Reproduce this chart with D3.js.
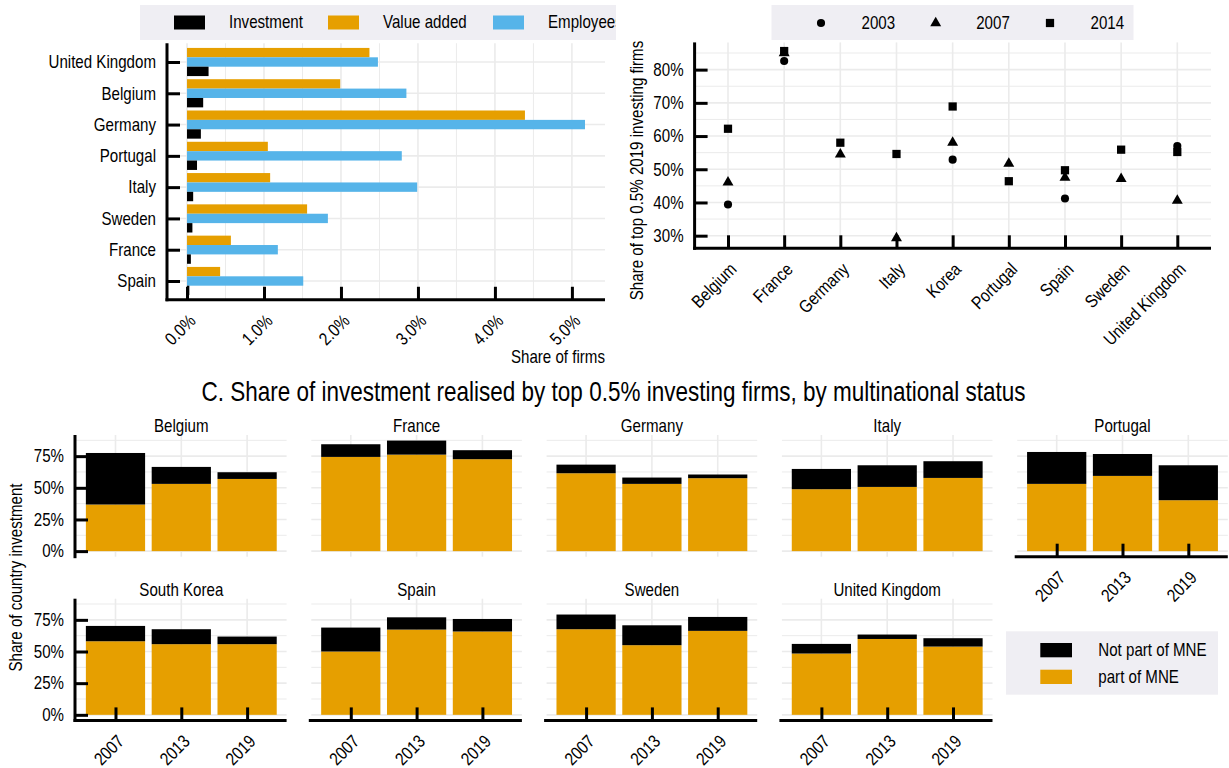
<!DOCTYPE html>
<html>
<head>
<meta charset="utf-8">
<script src="https://cdn.jsdelivr.net/npm/d3@7"></script>
<style>
  html, body { margin: 0; padding: 0; background: #fff; }
  svg { display: block; }
</style>
</head>
<body>
<script>
// ---------- Panel A: share of firms among top investors ----------
const firmCountries = ["United Kingdom", "Belgium", "Germany", "Portugal", "Italy", "Sweden", "France", "Spain"];
const investmentShare = [0.28, 0.21, 0.18, 0.13, 0.08, 0.07, 0.05, 0.03];
const valueAddedShare = [2.37, 1.99, 4.39, 1.05, 1.08, 1.56, 0.57, 0.43];
const employeeShare   = [2.48, 2.85, 5.17, 2.79, 2.99, 1.83, 1.18, 1.51];
const firmShareTicks  = [0, 1, 2, 3, 4, 5];
const firmSeriesNames = ["Investment", "Value added", "Employees"];

// ---------- Panel B: share of top 0.5% 2019 investors that were top investors earlier ----------
const pointCountries = ["Belgium", "France", "Germany", "Italy", "Korea", "Portugal", "Spain", "Sweden", "United Kingdom"];
const share2003 = [39.4, 82.6, null, null, 52.9, null, 41.2, null, 57.0];
const share2007 = [46.1, 85.0, 54.5, 29.3, 58.0, 51.7, 47.5, 47.1, 40.6];
const share2014 = [62.2, 85.6, 58.0, 54.6, 68.9, 46.4, 49.7, 55.9, 55.2];
const pointYears = ["2003", "2007", "2014"];
const pointTicks = [30, 40, 50, 60, 70, 80];

// ---------- Panel C: investment share of top 0.5% investors by MNE status ----------
const facetCountries = ["Belgium", "France", "Germany", "Italy", "Portugal", "South Korea", "Spain", "Sweden", "United Kingdom"];
const facetYears = ["2007", "2013", "2019"];
const mneShare = [
  [36.8, 53.1, 57.0], [74.4, 76.2, 72.6], [61.5, 53.1, 57.6], [48.9, 50.7, 57.8], [53.1, 59.4, 40.2],
  [58.1, 55.8, 55.8], [50.0, 67.3, 65.8], [67.6, 55.0, 66.3], [48.4, 59.9, 53.9]
];
const nonMneShare = [
  [40.7, 13.4, 5.3], [10.0, 11.1, 7.1], [6.8, 5.0, 2.9], [16.0, 17.1, 13.2], [25.2, 17.3, 27.6],
  [12.1, 11.8, 6.0], [18.9, 9.7, 9.9], [11.6, 15.7, 11.0], [7.6, 3.5, 6.6]
];
const facetTicks = [0, 25, 50, 75];
const mneLegend = ["Not part of MNE", "part of MNE"];

// ---------- styling ----------
const FONT = "'Liberation Sans',Arial,sans-serif";
const FS = 18;
const SX = 0.84;            // condensed lettering
const GRID = "#ebebeb";
const LEGEND_BG = "#efeef3";
const ORANGE = "#E69F00", BLUE = "#56B4E9", BLACK = "#000000";
const AXIS_W = 3, TICK_LEN = 13;

const svg = d3.select("body").append("svg")
  .attr("width", 1229).attr("height", 768)
  .attr("font-family", FONT);

function hLine(g, x1, x2, y, color, w) {
  g.append("line").attr("x1", x1).attr("x2", x2).attr("y1", y).attr("y2", y)
    .attr("stroke", color).attr("stroke-width", w);
}
function vLine(g, x, y1, y2, color, w) {
  g.append("line").attr("x1", x).attr("x2", x).attr("y1", y1).attr("y2", y2)
    .attr("stroke", color).attr("stroke-width", w);
}
// text placed at (x, y), optionally rotated, with condensed width
function label(g, x, y, str, opts = {}) {
  const rot = opts.rotate ? ` rotate(${opts.rotate})` : "";
  return g.append("text")
    .attr("transform", `translate(${x},${y})${rot} scale(${SX},1)`)
    .attr("text-anchor", opts.anchor || "start")
    .attr("dominant-baseline", "central")
    .attr("font-size", opts.size || FS)
    .attr("fill", "#000")
    .text(str);
}
function styleAxis(g) {
  g.attr("font-family", FONT).attr("font-size", FS);
  g.select(".domain").remove();
  g.selectAll(".tick line").attr("stroke", "#000").attr("stroke-width", AXIS_W);
  g.selectAll(".tick text").attr("fill", "#000");
}
function leftTickLabels(g, pad) {
  g.selectAll(".tick text").attr("x", 0)
    .attr("transform", `translate(${-pad},0) scale(${SX},1)`);
}
function rotateTickLabels(g) {
  g.selectAll(".tick text")
    .attr("x", 0).attr("y", 0).attr("dy", "0.72em")
    .attr("text-anchor", "end")
    .attr("transform", `translate(0,${TICK_LEN}) rotate(-45) scale(${SX},1)`);
}

// =================== Panel A ===================
{
  const g = svg.append("g");
  const clip = svg.append("clipPath").attr("id", "clipA");
  clip.append("rect").attr("x", 0).attr("y", 0).attr("width", 616).attr("height", 400);
  g.attr("clip-path", "url(#clipA)");

  const x = d3.scaleLinear().domain([-0.26, 5.43]).range([167, 605]);
  const y = d3.scalePoint().domain(firmCountries).range([62, 281]);
  const step = y.step();
  const top = y.range()[0] - 0.6 * step, bottom = y.range()[1] + 0.6 * step;
  const inner = d3.scaleBand().domain(["Value added", "Employees", "Investment"])
    .range([-0.45 * step, 0.45 * step]);

  // grid
  d3.range(0.5, 5.5, 1).forEach(v => vLine(g, x(v), top, bottom, GRID, 1));
  firmShareTicks.forEach(v => vLine(g, x(v), top, bottom, GRID, 1.6));
  firmCountries.forEach(c => hLine(g, x.range()[0], x.range()[1], y(c), GRID, 1.6));

  const series = [
    { key: "Value added", values: valueAddedShare, color: ORANGE },
    { key: "Employees", values: employeeShare, color: BLUE },
    { key: "Investment", values: investmentShare, color: BLACK }
  ];
  series.forEach(s => {
    g.append("g").selectAll("rect").data(firmCountries).join("rect")
      .attr("x", x(0))
      .attr("y", c => y(c) + inner(s.key))
      .attr("width", (c, i) => x(s.values[i]) - x(0))
      .attr("height", inner.bandwidth())
      .attr("fill", s.color);
  });

  const ay = g.append("g").attr("transform", `translate(${x.range()[0]},0)`)
    .call(d3.axisLeft(y).tickSizeInner(-TICK_LEN).tickSizeOuter(0).tickPadding(11));
  styleAxis(ay);
  leftTickLabels(ay, 11);
  const ax = g.append("g").attr("transform", `translate(0,${bottom})`)
    .call(d3.axisBottom(x).tickValues(firmShareTicks).tickFormat(d => d.toFixed(1) + "%")
      .tickSizeInner(-TICK_LEN).tickSizeOuter(0));
  styleAxis(ax);
  rotateTickLabels(ax);

  vLine(g, x.range()[0], top, bottom + AXIS_W / 2, "#000", AXIS_W);
  hLine(g, x.range()[0] - AXIS_W / 2, x.range()[1], bottom, "#000", AXIS_W);

  label(g, x.range()[1], 357, "Share of firms", { anchor: "end" });

  // legend
  const lg = g.append("g");
  lg.append("rect").attr("x", 140).attr("y", 5).attr("width", 520).attr("height", 35).attr("fill", LEGEND_BG);
  const legendColors = [BLACK, ORANGE, BLUE];
  const swatchX = [174, 328, 493];
  firmSeriesNames.forEach((name, i) => {
    lg.append("rect").attr("x", swatchX[i]).attr("y", 15.5).attr("width", 31).attr("height", 14)
      .attr("fill", legendColors[i]);
    label(lg, swatchX[i] + 55, 22.5, name);
  });
}

// =================== Panel B ===================
{
  const g = svg.append("g");
  const left = 694.6, right = 1211, top = 42.4, bottom = 248.3;
  const x = d3.scalePoint().domain(pointCountries).range([728, 1177.3]);
  const y = d3.scaleLinear().domain([26.2, 88.2]).range([bottom, top]);

  [35, 45, 55, 65, 75, 85].forEach(v => hLine(g, left, right, y(v), GRID, 1));
  pointTicks.forEach(v => hLine(g, left, right, y(v), GRID, 1.6));
  pointCountries.forEach(c => vLine(g, x(c), top, bottom, GRID, 1.6));

  const shapes = [d3.symbolCircle, d3.symbolTriangle, d3.symbolSquare];
  const sizes = [52, 52, 68];
  [share2003, share2007, share2014].forEach((vals, k) => {
    const sym = d3.symbol().type(shapes[k]).size(sizes[k]);
    g.append("g").selectAll("path")
      .data(pointCountries.map((c, i) => ({ c, v: vals[i] })).filter(d => d.v != null))
      .join("path")
      .attr("d", sym)
      .attr("transform", d => `translate(${x(d.c)},${y(d.v)})`)
      .attr("fill", "#000");
  });

  const ay = g.append("g").attr("transform", `translate(${left},0)`)
    .call(d3.axisLeft(y).tickValues(pointTicks).tickFormat(d => d + "%")
      .tickSizeInner(-TICK_LEN).tickSizeOuter(0).tickPadding(11));
  styleAxis(ay);
  leftTickLabels(ay, 11);
  const ax = g.append("g").attr("transform", `translate(0,${bottom})`)
    .call(d3.axisBottom(x).tickSizeInner(-TICK_LEN).tickSizeOuter(0));
  styleAxis(ax);
  rotateTickLabels(ax);

  vLine(g, left, top, bottom + AXIS_W / 2, "#000", AXIS_W);
  hLine(g, left - AXIS_W / 2, right, bottom, "#000", AXIS_W);

  label(g, 637, 170.5, "Share of top 0.5% 2019 investing firms", { anchor: "middle", rotate: -90 });

  // legend
  const lg = g.append("g");
  lg.append("rect").attr("x", 771.5).attr("y", 5).attr("width", 362).attr("height", 35).attr("fill", LEGEND_BG);
  const symX = [821, 935.7, 1050];
  pointYears.forEach((yr, k) => {
    lg.append("path").attr("d", d3.symbol().type(shapes[k]).size(sizes[k]))
      .attr("transform", `translate(${symX[k]},23)`).attr("fill", "#000");
    label(lg, symX[k] + 40.5, 23, yr);
  });
}

// =================== Panel C ===================
{
  const g = svg.append("g");
  label(g, 613.5, 391.5, "C. Share of investment realised by top 0.5% investing firms, by multinational status",
    { anchor: "middle", size: 26.8 });

  label(g, 16, 577.5, "Share of country investment", { anchor: "middle", rotate: -90 });

  const panelW = 210.6, colStep = 235.3, left0 = 76;
  const rows = [{ top: 435, bottom: 556.7 }, { top: 598.7, bottom: 720.4 }];
  const nCols = 5;

  facetCountries.forEach((country, i) => {
    const row = Math.floor(i / nCols), col = i % nCols;
    const left = left0 + col * colStep, right = left + panelW;
    const { top, bottom } = rows[row];
    const step = panelW / 3.2;
    const x = d3.scalePoint().domain(facetYears).range([left + 0.6 * step, right - 0.6 * step]);
    const y = d3.scaleLinear().domain([-4.4, 91.7]).range([bottom, top]);
    const barW = 0.9 * step;
    const pg = g.append("g");

    [12.5, 37.5, 62.5, 87.5].forEach(v => hLine(pg, left, right, y(v), GRID, 1));
    facetTicks.forEach(v => hLine(pg, left, right, y(v), GRID, 1.6));
    facetYears.forEach(yr => vLine(pg, x(yr), top, bottom, GRID, 1.6));

    // stacked bars: MNE at the base, non-MNE on top
    pg.append("g").selectAll("rect").data(facetYears).join("rect")
      .attr("x", yr => x(yr) - barW / 2).attr("width", barW)
      .attr("y", (yr, j) => y(mneShare[i][j]))
      .attr("height", (yr, j) => y(0) - y(mneShare[i][j]))
      .attr("fill", ORANGE);
    pg.append("g").selectAll("rect").data(facetYears).join("rect")
      .attr("x", yr => x(yr) - barW / 2).attr("width", barW)
      .attr("y", (yr, j) => y(mneShare[i][j] + nonMneShare[i][j]))
      .attr("height", (yr, j) => y(mneShare[i][j]) - y(mneShare[i][j] + nonMneShare[i][j]))
      .attr("fill", BLACK);

    label(pg, (left + right) / 2, top - 8.5, country, { anchor: "middle" });

    const hasXAxis = row === 1 || i + nCols >= facetCountries.length;
    if (col === 0) {
      const ay = pg.append("g").attr("transform", `translate(${left - 1},0)`)
        .call(d3.axisLeft(y).tickValues(facetTicks).tickFormat(d => d + "%")
          .tickSizeInner(-TICK_LEN).tickSizeOuter(0).tickPadding(11));
      styleAxis(ay);
      leftTickLabels(ay, 11);
      vLine(pg, left - 1, top, bottom + AXIS_W / 2, "#000", AXIS_W);
    }
    if (hasXAxis) {
      const ax = pg.append("g").attr("transform", `translate(0,${bottom})`)
        .call(d3.axisBottom(x).tickSizeInner(-TICK_LEN).tickSizeOuter(0));
      styleAxis(ax);
      rotateTickLabels(ax);
      hLine(pg, left - 1 - AXIS_W / 2, right, bottom, "#000", AXIS_W);
    }
  });

  // legend in the free facet slot
  const lg = g.append("g");
  lg.append("rect").attr("x", 1006).attr("y", 631.3).attr("width", 212).attr("height", 63.4).attr("fill", LEGEND_BG);
  [BLACK, ORANGE].forEach((c, k) => {
    lg.append("rect").attr("x", 1040.3).attr("y", 643 + k * 26.7).attr("width", 31.7).attr("height", 14.3).attr("fill", c);
    label(lg, 1098.3, 650.2 + k * 26.7, mneLegend[k]);
  });
}
</script>
</body>
</html>
